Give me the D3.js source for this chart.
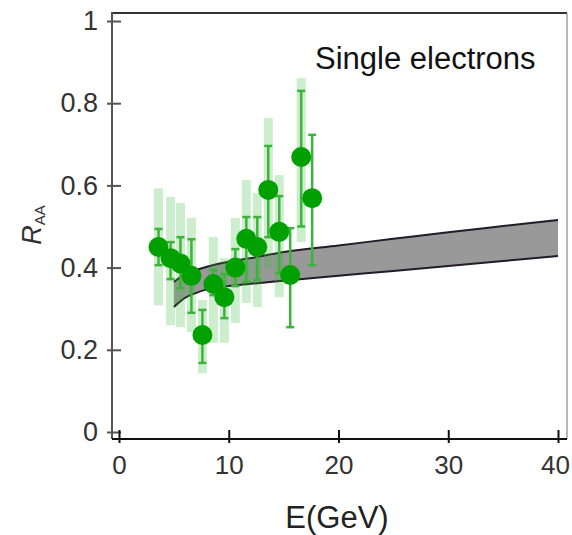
<!DOCTYPE html>
<html>
<head>
<meta charset="utf-8">
<script src="https://cdn.jsdelivr.net/npm/d3@7"></script>
<style>
  body { margin: 0; background: #fff; }
  svg { display: block; font-family: "Liberation Sans", Arial, sans-serif; }
</style>
</head>
<body>
<svg id="chart" width="572" height="535"></svg>
<script>
// Data points (energy in GeV, R_AA)
const energy = [3.6, 4.7, 5.6, 6.6, 7.6, 8.6, 9.6, 10.6, 11.6, 12.6, 13.6, 14.6, 15.6, 16.6, 17.6];
const raa = [0.45, 0.423, 0.41, 0.38, 0.236, 0.36, 0.328, 0.40, 0.47, 0.45, 0.589, 0.487, 0.382, 0.669, 0.569];
const statLo = [0.406, 0.372, 0.35, 0.29, 0.168, 0.333, 0.277, 0.355, 0.365, 0.37, 0.474, 0.387, 0.255, 0.50, 0.406];
const statHi = [0.494, 0.462, 0.474, 0.469, 0.297, 0.394, 0.384, 0.445, 0.523, 0.523, 0.696, 0.574, 0.496, 0.83, 0.723];
const sysLo = [0.308, 0.26, 0.255, 0.243, 0.143, 0.217, 0.217, 0.265, 0.314, 0.304, 0.399, 0.328, null, 0.462, null];
const sysHi = [0.593, 0.572, 0.557, 0.521, 0.321, 0.474, 0.423, 0.521, 0.613, 0.582, 0.764, 0.625, null, 0.861, null];

// Theory band
const bandE = [5, 5.5, 6, 7, 8, 10, 12.6, 15, 20, 25, 30, 35, 40];
const bandHi = [0.365, 0.375, 0.383, 0.394, 0.402, 0.414, 0.426, 0.438, 0.454, 0.47, 0.486, 0.501, 0.516];
const bandLo = [0.304, 0.316, 0.326, 0.338, 0.347, 0.355, 0.362, 0.368, 0.38, 0.392, 0.404, 0.416, 0.428];

const xTicks = [0, 10, 20, 30, 40];
const yTicks = [0, 0.2, 0.4, 0.6, 0.8, 1];

const svg = d3.select("#chart");

const x = d3.scaleLinear().domain([0, 40]).range([119, 558]);
const y = d3.scaleLinear().domain([0, 1]).range([432, 21]);

// Frame
const frame = { left: 112, right: 567, top: 13, bottom: 439 };
svg.append("line").attr("x1", frame.left).attr("x2", frame.right).attr("y1", frame.top).attr("y2", frame.top)
  .attr("stroke", "#333").attr("stroke-width", 2);
svg.append("line").attr("x1", frame.right).attr("x2", frame.right).attr("y1", frame.top).attr("y2", frame.bottom)
  .attr("stroke", "#888").attr("stroke-width", 1.2);

// Band
const band = bandE.map((e, i) => ({ e, lo: bandLo[i], hi: bandHi[i] }));
svg.append("path")
  .datum(band)
  .attr("d", d3.area().x(d => x(d.e)).y0(d => y(d.lo)).y1(d => y(d.hi)).curve(d3.curveMonotoneX))
  .attr("fill", "#999");
[bandHi, bandLo].forEach(arr => {
  svg.append("path")
    .datum(band)
    .attr("d", d3.line().x(d => x(d.e)).y((d, i) => y(arr[i])).curve(d3.curveMonotoneX))
    .attr("fill", "none")
    .attr("stroke", "#241a28")
    .attr("stroke-width", 2);
});

// Points
const pts = energy.map((e, i) => ({ e, r: raa[i], sl: statLo[i], sh: statHi[i], yl: sysLo[i], yh: sysHi[i] }));

svg.append("g").selectAll("rect")
  .data(pts.filter(d => d.yl != null))
  .join("rect")
  .attr("x", d => x(d.e) - 4.5)
  .attr("width", 9)
  .attr("y", d => y(d.yh))
  .attr("height", d => y(d.yl) - y(d.yh))
  .attr("fill", "#33bb33")
  .attr("fill-opacity", 0.25);

const stat = svg.append("g").attr("stroke", "#3cb43c").attr("stroke-width", 2.5);
stat.selectAll("line.bar")
  .data(pts)
  .join("line")
  .attr("class", "bar")
  .attr("x1", d => x(d.e)).attr("x2", d => x(d.e))
  .attr("y1", d => y(d.sl)).attr("y2", d => y(d.sh));
["sl", "sh"].forEach(k => {
  stat.selectAll("line.cap-" + k)
    .data(pts)
    .join("line")
    .attr("class", "cap-" + k)
    .attr("x1", d => x(d.e) - 4).attr("x2", d => x(d.e) + 4)
    .attr("y1", d => y(d[k])).attr("y2", d => y(d[k]));
});

svg.append("g").selectAll("circle")
  .data(pts)
  .join("circle")
  .attr("cx", d => x(d.e))
  .attr("cy", d => y(d.r))
  .attr("r", 10)
  .attr("fill", "#00a000");

// Axes
const yAxis = svg.append("g")
  .attr("transform", "translate(121,0)")
  .call(d3.axisLeft(y).tickValues(yTicks).tickSize(14).tickPadding(9)
    .tickFormat(d => d === 0 || d === 1 ? d3.format("d")(d) : d3.format(".1f")(d)));
yAxis.select(".domain").remove();
yAxis.selectAll("line").attr("stroke", "#555").attr("stroke-width", 2);
yAxis.selectAll("text").attr("font-size", 27).attr("fill", "#333").attr("font-family", "Liberation Sans, Arial, sans-serif");

const xAxis = svg.append("g")
  .attr("transform", "translate(0,430)")
  .call(d3.axisBottom(x).tickValues(xTicks).tickSize(13).tickPadding(13));
xAxis.select(".domain").remove();
xAxis.selectAll("line").attr("stroke", "#111").attr("stroke-width", 2);
xAxis.selectAll("text").attr("font-size", 26).attr("fill", "#333").attr("font-family", "Liberation Sans, Arial, sans-serif")
  .attr("dx", d => d === 40 ? -3 : 0);

svg.append("line").attr("x1", frame.left).attr("x2", frame.left).attr("y1", frame.top - 1).attr("y2", frame.bottom)
  .attr("stroke", "#555").attr("stroke-width", 2);
svg.append("line").attr("x1", frame.left).attr("x2", frame.right).attr("y1", frame.bottom).attr("y2", frame.bottom)
  .attr("stroke", "#111").attr("stroke-width", 2);

// Labels
svg.append("text")
  .attr("x", 315).attr("y", 69)
  .attr("font-size", 31).attr("fill", "#111")
  .text("Single electrons");

svg.append("text")
  .attr("x", 337).attr("y", 528)
  .attr("text-anchor", "middle")
  .attr("font-size", 31).attr("fill", "#222")
  .text("E(GeV)");

const ylab = svg.append("text")
  .attr("transform", "translate(41,225) rotate(-90)")
  .attr("text-anchor", "middle")
  .attr("fill", "#333");
ylab.append("tspan").attr("font-size", 27).attr("font-style", "italic").text("R");
ylab.append("tspan").attr("font-size", 15).attr("dy", 4).text("AA");
</script>
</body>
</html>
